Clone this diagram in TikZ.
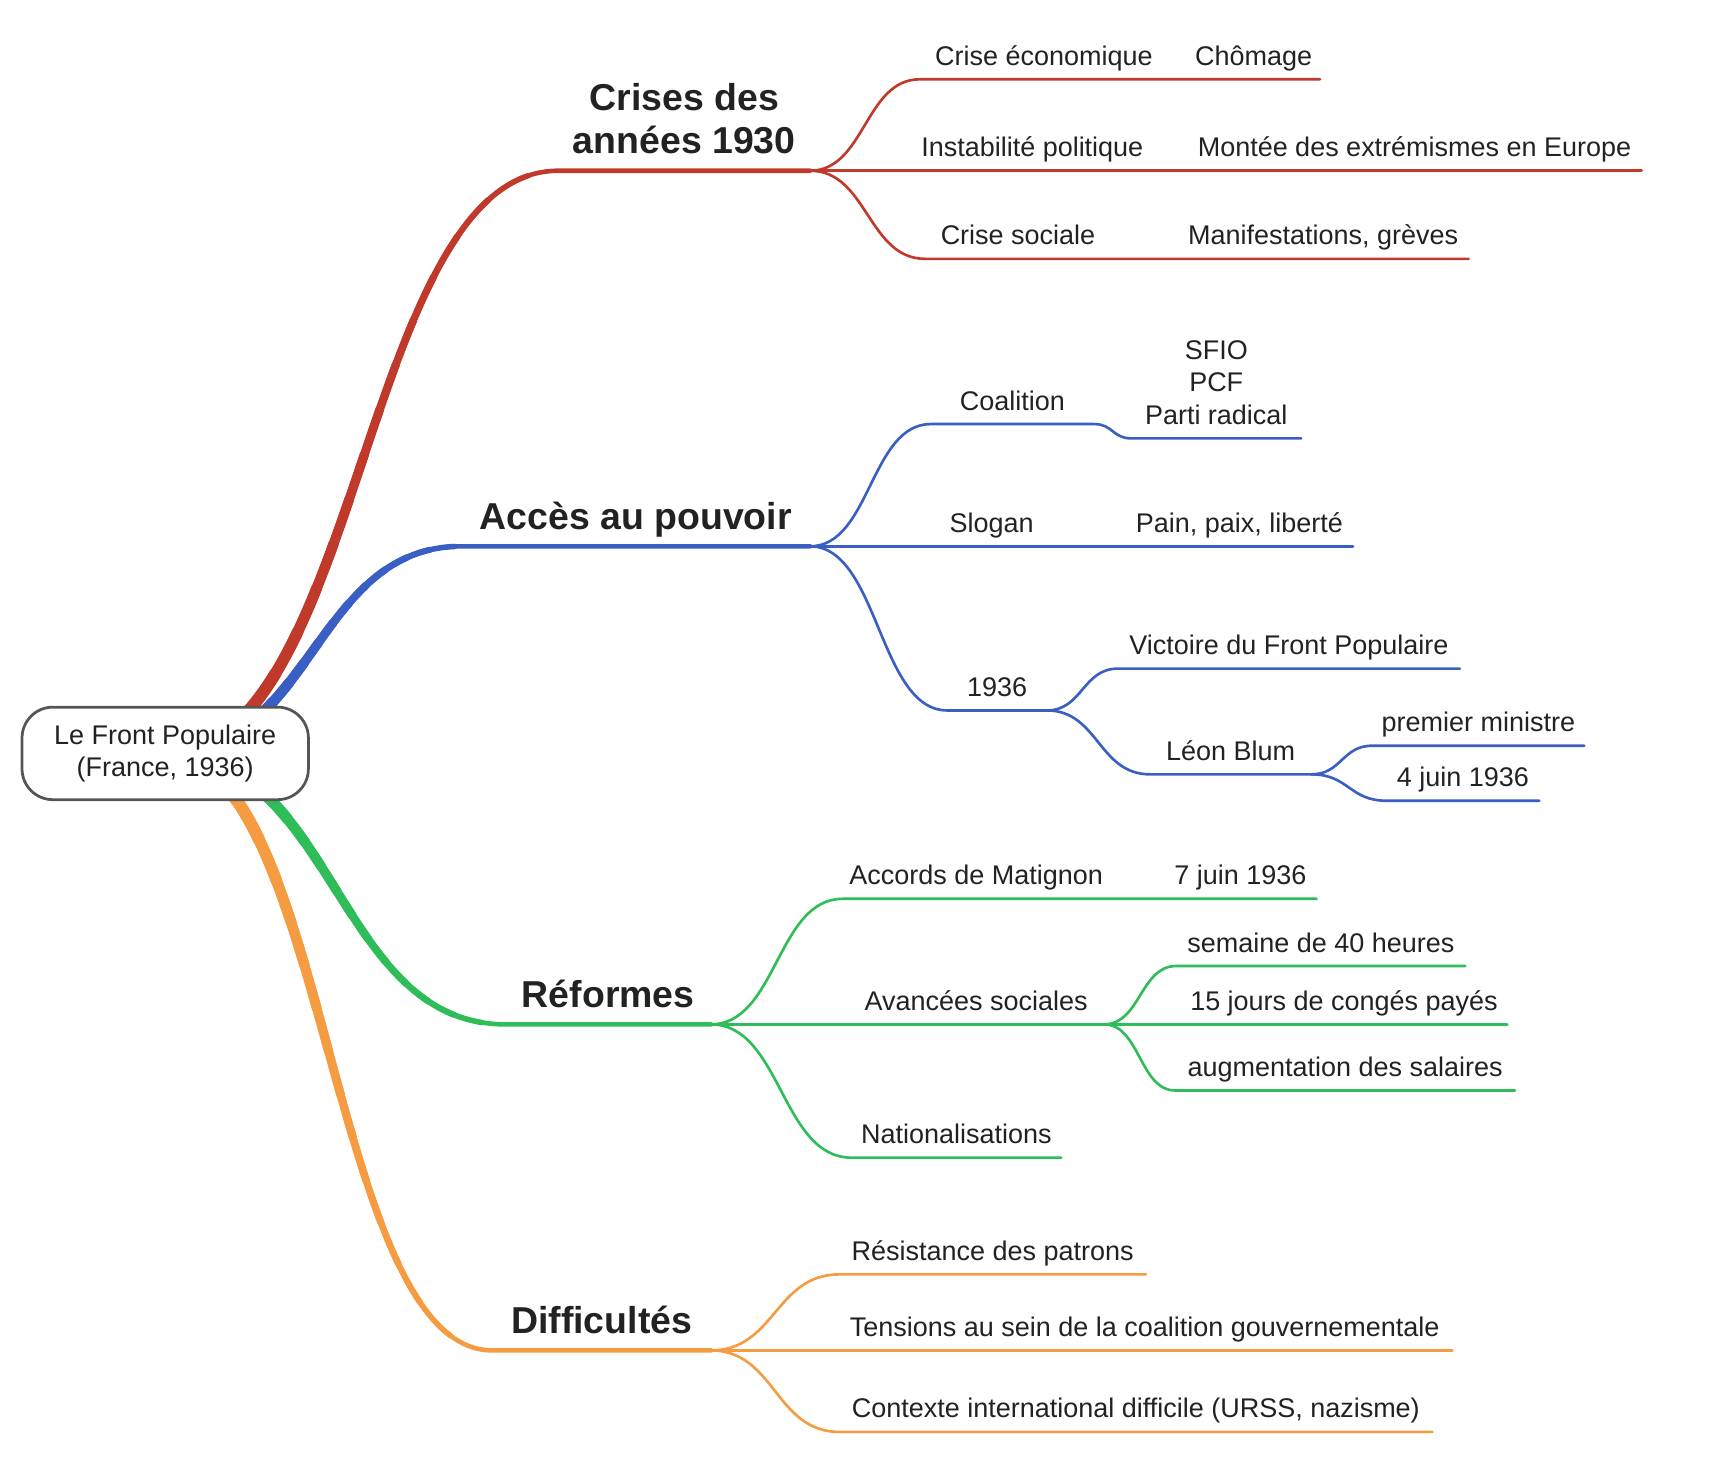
\documentclass[tikz,border=0pt]{standalone}
\usepackage{fontspec}
\setmainfont{Liberation Sans}
\usetikzlibrary{calc,backgrounds}

\definecolor{ink}{RGB}{34,34,34}
\definecolor{rootgray}{RGB}{85,85,85}
\definecolor{crisered}{RGB}{192,57,43}
\definecolor{pouvblue}{RGB}{58,95,196}
\definecolor{refgreen}{RGB}{46,189,89}
\definecolor{difforange}{RGB}{245,155,66}

\tikzset{
  item/.style={font=\fontsize{24.5}{29.5}\selectfont, text=ink, text height=18pt, text depth=5.2pt,
    inner xsep=0pt, inner ysep=7.3pt, anchor=south west},
  topic/.style={font=\bfseries\fontsize{34}{39}\selectfont, text=ink, text height=25pt, text depth=7pt,
    inner xsep=0pt, inner ysep=8pt, anchor=south west},
  mlink/.style={to path={let \p1=(\tikztostart), \p2=(\tikztotarget) in
    .. controls ({(\x1+\x2)/2},\y1) and ({(\x1+\x2)/2},\y2) .. (\tikztotarget)}},
  rd/.style={draw=crisered, line width=2.4pt, line cap=round},
  bl/.style={draw=pouvblue, line width=2.4pt, line cap=round},
  gr/.style={draw=refgreen, line width=2.4pt, line cap=round},
  og/.style={draw=difforange, line width=2.4pt, line cap=round}
}

% tapered main branch: colour, target node, length of the curve
\newcommand{\trunk}[3]{%
  \foreach \i in {1,...,15}{%
    \pgfmathsetmacro\seg{#3*\i/16}
    \pgfmathsetmacro\w{12.5-0.5*\i}
    \draw[#1, line width=\w pt, line cap=round, dash pattern=on \seg pt off 5000pt]
      (root.center) to[mlink] (#2.south west);
  }
  \draw[#1, line width=4.2pt, line cap=round] (root.center) to[mlink] (#2.south west) -- (#2.south east);
}

\begin{document}
\begin{tikzpicture}[x=1pt,y=-1pt]
  \useasboundingbox (0,0) rectangle (1567,1338);

  % root
  \node[draw=rootgray, line width=2.5pt, fill=white, rounded corners=28pt, minimum width=260pt,
    minimum height=84pt, align=center, text=ink, font=\fontsize{24.5}{28.5}\selectfont]
    (root) at (150,684) {Le Front Populaire\\(France, 1936)};

  % main topics
  \node[topic, align=center, text height=, text depth=, inner ysep=15pt, minimum width=228pt]
    (cri) at (507,155) {Crises des\\années 1930};
  \node[topic, minimum width=316pt] (pou) at (419,496) {Accès au pouvoir};
  \node[topic, minimum width=186pt] (ref) at (459,930) {Réformes};
  \node[topic, minimum width=198pt] (dif) at (447,1226) {Difficultés};

  % crises
  \node[item, minimum width=225pt] (ce) at (835,72) {Crise économique};
  \node[item, minimum width=120pt] (cho) at (1078,72) {Chômage};
  \node[item, minimum width=220pt] (ip) at (827,155) {Instabilité politique};
  \node[item, minimum width=412pt] (mon) at (1078,155) {Montée des extrémismes en Europe};
  \node[item, minimum width=168pt] (cs) at (840,235) {Crise sociale};
  \node[item, minimum width=264pt] (man) at (1069,235) {Manifestations, grèves};

  % pouvoir
  \node[item, minimum width=148pt] (coa) at (845,385) {Coalition};
  \node[item, align=center, text height=, text depth=, inner ysep=12.3pt, minimum width=154pt]
    (par) at (1027,398) {SFIO\\PCF\\Parti radical};
  \node[item, minimum width=130pt] (slo) at (835,496) {Slogan};
  \node[item, minimum width=206pt] (pain) at (1022,496) {Pain, paix, liberté};
  \node[item, minimum width=90pt] (an) at (860,645) {1936};
  \node[item, minimum width=310pt] (vic) at (1015,607) {Victoire du Front Populaire};
  \node[item, minimum width=146pt] (blum) at (1044,703) {Léon Blum};
  \node[item, minimum width=192pt] (pm) at (1246,677) {premier ministre};
  \node[item, minimum width=138pt] (jun) at (1259,727) {4 juin 1936};

  % reformes
  \node[item, minimum width=242pt] (mat) at (765,816) {Accords de Matignon};
  \node[item, minimum width=138pt] (sept) at (1057,816) {7 juin 1936};
  \node[item, minimum width=232pt] (ava) at (770,930) {Avancées sociales};
  \node[item, minimum width=262pt] (sem) at (1068,877) {semaine de 40 heures};
  \node[item, minimum width=296pt] (conge) at (1072,930) {15 jours de congés payés};
  \node[item, minimum width=308pt] (aug) at (1067,990) {augmentation des salaires};
  \node[item, minimum width=190pt] (nat) at (773,1051) {Nationalisations};

  % difficultes
  \node[item, minimum width=278pt] (res) at (762,1157) {Résistance des patrons};
  \node[item, minimum width=558pt] (ten) at (760,1226) {Tensions au sein de la coalition gouvernementale};
  \node[item, minimum width=538pt] (ctx) at (762,1300) {Contexte international difficile (URSS, nazisme)};

  \begin{scope}[on background layer]
    \trunk{crisered}{cri}{690}
    \trunk{pouvblue}{pou}{360}
    \trunk{refgreen}{ref}{420}
    \trunk{difforange}{dif}{650}
  \end{scope}

  \draw[rd] (cri.south east) to[mlink] (ce.south west) -- (ce.south east) to[mlink] (cho.south west) -- (cho.south east);
  \draw[rd] (cri.south east) to[mlink] (ip.south west) -- (ip.south east) to[mlink] (mon.south west) -- (mon.south east);
  \draw[rd] (cri.south east) to[mlink] (cs.south west) -- (cs.south east) to[mlink] (man.south west) -- (man.south east);

  \draw[bl] (pou.south east) to[mlink] (coa.south west) -- (coa.south east) to[mlink] (par.south west) -- (par.south east);
  \draw[bl] (pou.south east) to[mlink] (slo.south west) -- (slo.south east) to[mlink] (pain.south west) -- (pain.south east);
  \draw[bl] (pou.south east) to[mlink] (an.south west) -- (an.south east);
  \draw[bl] (an.south east) to[mlink] (vic.south west) -- (vic.south east);
  \draw[bl] (an.south east) to[mlink] (blum.south west) -- (blum.south east);
  \draw[bl] (blum.south east) to[mlink] (pm.south west) -- (pm.south east);
  \draw[bl] (blum.south east) to[mlink] (jun.south west) -- (jun.south east);

  \draw[gr] (ref.south east) to[mlink] (mat.south west) -- (mat.south east) to[mlink] (sept.south west) -- (sept.south east);
  \draw[gr] (ref.south east) to[mlink] (ava.south west) -- (ava.south east);
  \draw[gr] (ava.south east) to[mlink] (sem.south west) -- (sem.south east);
  \draw[gr] (ava.south east) to[mlink] (conge.south west) -- (conge.south east);
  \draw[gr] (ava.south east) to[mlink] (aug.south west) -- (aug.south east);
  \draw[gr] (ref.south east) to[mlink] (nat.south west) -- (nat.south east);

  \draw[og] (dif.south east) to[mlink] (res.south west) -- (res.south east);
  \draw[og] (dif.south east) to[mlink] (ten.south west) -- (ten.south east);
  \draw[og] (dif.south east) to[mlink] (ctx.south west) -- (ctx.south east);
\end{tikzpicture}
\end{document}
